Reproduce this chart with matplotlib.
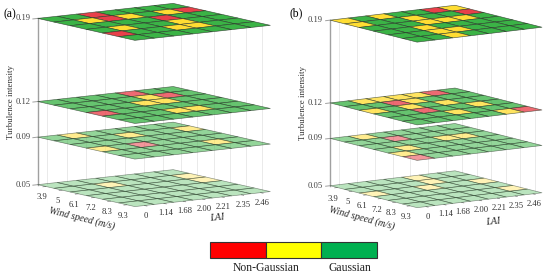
import matplotlib
matplotlib.use("Agg")
import matplotlib.pyplot as plt
from matplotlib.colors import to_rgba
from matplotlib.patches import Rectangle
from mpl_toolkits.mplot3d import proj3d
from mpl_toolkits.mplot3d.art3d import Poly3DCollection

plt.rcParams['font.family'] = ['Liberation Serif', 'DejaVu Serif']

levels = [0.05, 0.09, 0.12, 0.19]
level_labels = ['0.05', '0.09', '0.12', '0.19']
wind_labels = ['3.9', '5', '6.1', '7.2', '8.3', '9.3']
lai_labels = ['0', '1.14', '1.68', '2.00', '2.21', '2.35', '2.46']

# 0 gaussian, 1 intermediate, 2 non-gaussian. rows = wind speed, columns = LAI
a_019 = [[0, 0, 2, 0, 0, 0, 0],
         [0, 1, 2, 1, 0, 1, 2],
         [0, 0, 0, 0, 2, 0, 0],
         [0, 1, 0, 0, 1, 0, 0],
         [2, 0, 0, 1, 1, 0, 0],
         [0, 0, 0, 0, 0, 0, 0]]
a_012 = [[0, 0, 0, 0, 2, 0, 0],
         [0, 0, 0, 0, 1, 2, 0],
         [0, 0, 0, 1, 1, 0, 0],
         [2, 0, 0, 0, 0, 0, 0],
         [0, 0, 0, 1, 1, 0, 0],
         [0, 0, 0, 0, 0, 0, 0]]
a_009 = [[0, 1, 0, 0, 0, 0, 0],
         [0, 0, 0, 1, 0, 0, 1],
         [0, 0, 0, 0, 0, 0, 0],
         [1, 0, 2, 0, 0, 0, 0],
         [0, 0, 0, 0, 0, 1, 0],
         [0, 0, 0, 0, 0, 0, 0]]
a_005 = [[0, 0, 0, 0, 0, 0, 0],
         [0, 0, 1, 0, 0, 0, 1],
         [0, 0, 0, 0, 0, 0, 1],
         [0, 0, 0, 0, 0, 0, 0],
         [0, 0, 0, 0, 0, 0, 0],
         [0, 0, 0, 0, 0, 0, 0]]
b_019 = [[1, 0, 1, 0, 0, 2, 1],
         [1, 0, 0, 1, 0, 0, 2],
         [0, 0, 0, 1, 1, 1, 0],
         [0, 0, 1, 0, 0, 0, 0],
         [0, 0, 1, 1, 0, 0, 0],
         [0, 0, 1, 0, 0, 0, 0]]
b_012 = [[0, 1, 1, 1, 1, 2, 0],
         [0, 0, 2, 1, 0, 0, 0],
         [1, 0, 1, 0, 1, 0, 0],
         [0, 0, 2, 0, 0, 1, 0],
         [0, 0, 0, 1, 0, 0, 0],
         [0, 0, 0, 0, 0, 1, 2]]
b_009 = [[0, 1, 0, 0, 0, 0, 0],
         [0, 0, 2, 0, 0, 0, 0],
         [0, 0, 0, 0, 1, 1, 0],
         [0, 1, 0, 0, 0, 0, 0],
         [1, 0, 0, 0, 0, 0, 0],
         [2, 0, 0, 0, 0, 0, 0]]
b_005 = [[0, 0, 0, 0, 1, 0, 0],
         [0, 0, 0, 0, 1, 0, 0],
         [1, 0, 0, 1, 0, 0, 1],
         [0, 0, 0, 0, 0, 0, 0],
         [0, 0, 0, 0, 0, 0, 1],
         [0, 0, 0, 0, 0, 0, 0]]

cell_colors = ['#3BB346', '#FFDD33', '#E8404A']
layer_alpha = [0.35, 0.55, 0.78, 1.0]
W, H = 550, 278


def panel(rect, elev, azim, aspect, layers):
    ax = fig.add_axes([rect[0] / W, rect[1] / H, rect[2] / W, rect[2] / H],
                      projection='3d', proj_type='ortho')
    ax.computed_zorder = False
    ax.set_axis_off()
    ax.patch.set_alpha(0)
    ax.view_init(elev=elev, azim=azim)
    ax.set_box_aspect(aspect)
    ax.set_xlim(0, 6, view_margin=0)
    ax.set_ylim(0, 7, view_margin=0)
    ax.set_zlim(0.05, 0.19, view_margin=0)
    proj = ax.get_proj()

    def tick_text(x, y, z, s, dx, dy, ha='center', color='#444444'):
        # labels go on as plain 2D annotations at the projected spot
        xp, yp, _ = proj3d.proj_transform(x, y, z, proj)
        ax.annotate(s, xy=(xp, yp), xycoords='data', xytext=(dx * 0.72, dy * 0.72),
                    textcoords='offset points', ha=ha, va='center', fontsize=6.2,
                    color=color, annotation_clip=False)

    # faint uprights on the two back walls
    for i in range(7):
        ax.plot([0, 0], [i + 0.5, i + 0.5], [0.05, 0.19], color='#e6e6e6', lw=0.6, zorder=1)
    for i in range(6):
        ax.plot([i + 0.5, i + 0.5], [7, 7], [0.05, 0.19], color='#e6e6e6', lw=0.6, zorder=1)
    ax.plot([0, 0], [0, 0], [0.05, 0.19], color='#a0a0a0', lw=1.0, zorder=1)

    for n, (z, grid) in enumerate(zip(levels, layers)):
        verts, faces = [], []
        for r, row in enumerate(grid):
            for c, state in enumerate(row):
                verts.append([(r, c, z), (r + 1, c, z), (r + 1, c + 1, z), (r, c + 1, z)])
                faces.append(to_rgba(cell_colors[state], layer_alpha[n]))
        ax.add_collection3d(Poly3DCollection(verts, facecolors=faces,
                                             edgecolors=(0.15, 0.2, 0.15, 0.4 + 0.4 * layer_alpha[n]),
                                             linewidths=0.45, zorder=2 + n))
        ax.plot([0, 0], [-0.25, 0], [z, z], color='#a0a0a0', lw=0.7, zorder=1)
        tick_text(0, 0, z, level_labels[n], -7, 0, ha='right')

    for i, lab in enumerate(wind_labels):
        ax.plot([i + 0.5, i + 0.5], [-0.15, 0], [0.05, 0.05], color='#808080', lw=0.5, zorder=1)
        tick_text(i + 0.5, 0, 0.05, lab, -4, -11, color='#333333')
    for i, lab in enumerate(lai_labels):
        ax.plot([6, 6.15], [i + 0.5, i + 0.5], [0.05, 0.05], color='#808080', lw=0.5, zorder=1)
        tick_text(6, i + 0.5, 0.05, lab, 1.5, -10, color='#333333')
    return ax


fig = plt.figure(figsize=(W / 100, H / 100), dpi=100)
panel((9.2, 28.2, 282), 9.1, -35, (169, 165, 168), [a_005, a_009, a_012, a_019])
panel((299.7, 35.2, 265.5), 10.0, -34.5, (154, 152, 168.6), [b_005, b_009, b_012, b_019])


def label(x, y, s, **kw):
    fig.text(x / W, 1 - y / H, s, ha='center', va='center', **kw)


label(9.5, 14, '(a)', fontsize=8.4)
label(296.5, 13, '(b)', fontsize=8.4)
label(11, 102, 'Turbulence intensity', rotation=90, fontsize=6.4, color='#333333')
label(303, 103, 'Turbulence intensity', rotation=90, fontsize=6.4, color='#333333')
label(82, 218, 'Wind speed (m/s)', rotation=-14, fontsize=7, style='italic', color='#222222')
label(362, 218, 'Wind speed (m/s)', rotation=-15, fontsize=7, style='italic', color='#222222')
label(217, 218, 'LAI', rotation=6, fontsize=7, style='italic', color='#222222')
label(493, 222, 'LAI', rotation=6, fontsize=7, style='italic', color='#222222')

legend_colors = ['#FF0000', '#FFFF00', '#00B050']
for i, col in enumerate(legend_colors):
    fig.add_artist(Rectangle(((210 + i * 55.7) / W, 1 - 258 / H), 55.7 / W, 16 / H,
                             transform=fig.transFigure, facecolor=col,
                             edgecolor='#333333', lw=0.8))
label(266, 268, 'Non-Gaussian', fontsize=8.4, color='#222222')
label(350, 268, 'Gaussian', fontsize=8.4, color='#222222')

fig.savefig('out.png', dpi=100)
